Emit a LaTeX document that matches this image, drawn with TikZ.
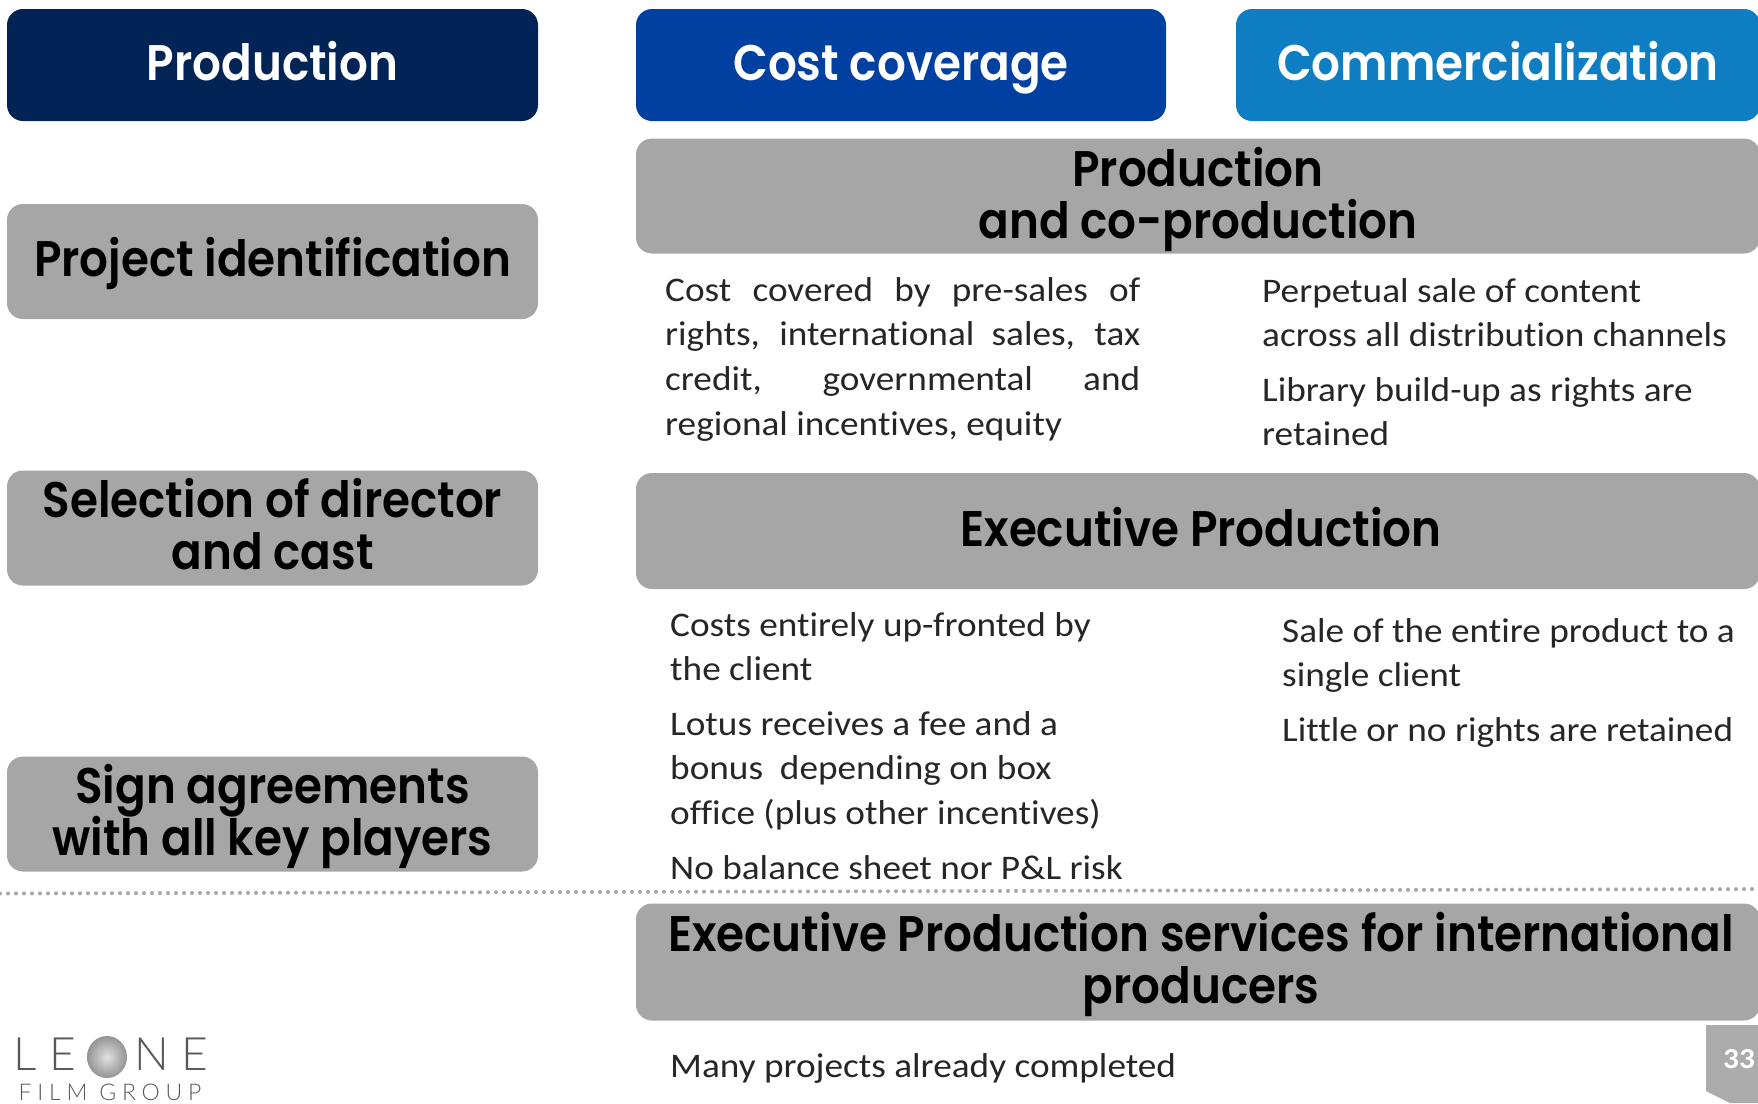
\documentclass[tikz,border=0pt]{standalone}
\usepackage{fontspec}
\setmainfont[FakeStretch=1.08,Ligatures=NoCommon]{Carlito}
\newfontfamily\headfont[FakeStretch=0.905]{Poppins SemiBold}
\newfontfamily\logofont{Lato Light}
\usepackage{tikz}
\usepackage{xcolor}
\definecolor{prodblue}{HTML}{022356}
\definecolor{costblue}{HTML}{0040A0}
\definecolor{commblue}{HTML}{0F7DC2}
\definecolor{boxgray}{HTML}{A6A6A6}
\definecolor{tabgray}{HTML}{ABABAB}
\definecolor{bodyblack}{HTML}{262626}

\begin{document}
\begin{tikzpicture}[x=1pt,y=-1pt,
    oneline/.style={text height=40pt, text depth=10pt},
    twoline/.style={text height=#1, text depth=10pt},
    headbox/.style={rounded corners=16pt, minimum height=112pt, inner sep=0pt, align=center, text=white, oneline,
        font=\headfont\fontsize{50}{52}\selectfont},
    graybox/.style={rounded corners=16pt, fill=boxgray, inner sep=0pt, align=center, text=black,
        font=\headfont\fontsize{50}{52}\selectfont},
    bodytext/.style={anchor=north west, inner sep=0pt, text=bodyblack, align=left,
        font=\fontsize{34.5}{44.8}\selectfont},
    logotext/.style={inner sep=0pt, text=black!65}]
        \useasboundingbox (0,0) rectangle (1758,1103);

        \node [headbox, fill=prodblue, minimum width=531pt] (production) at (272.5,65) {Production};
        \node [headbox, fill=costblue, minimum width=530pt] (cost) at (901,65) {Cost coverage};
        \node [headbox, fill=commblue, minimum width=524pt] (comm) at (1498,65) {Commercialization};

        \node [graybox, oneline, minimum width=531pt, minimum height=115pt] (project) at (272.5,261.5) {Project identification};
        \node [graybox, twoline=92pt, minimum width=531pt, minimum height=115pt] (selection) at (272.5,528) {Selection of director\\and cast};
        \node [graybox, twoline=92pt, minimum width=531pt, minimum height=115pt] (sign) at (272.5,814) {Sign agreements\\[-2pt]with all key players};

        \node [graybox, twoline=94pt, minimum width=1124pt, minimum height=115pt] (coprod) at (1198,196) {Production\\and co-production};
        \node [graybox, oneline, minimum width=1124pt, minimum height=116pt] (exec) at (1198,531) {\hspace*{6pt}Executive Production};
        \node [graybox, twoline=92pt, minimum width=1124pt, minimum height=117pt] (services) at (1198,962) {\hspace*{6pt}Executive Production services for international\\\hspace*{6pt}producers};

        \node [bodytext, text width=475pt, align=justify] (costtext) at (665,277) {Cost covered by pre-sales of\linebreak rights, international sales, tax\linebreak credit, governmental and\linebreak regional incentives, equity};
        \node [bodytext] (perpetual) at (1262,278) {Perpetual sale of content\\across all distribution channels};
        \node [bodytext] (library) at (1262,377) {Library build-up as rights are\\retained};

        \node [bodytext] (upfront) at (670,612) {Costs entirely up-fronted by\\the client};
        \node [bodytext] (fee) at (670,711) {Lotus receives a fee and a\\bonus\ \ depending on box\\office (plus other incentives)};
        \node [bodytext] (risk) at (670,855) {No balance sheet nor P\&L risk};
        \node [bodytext] (sale) at (1282,618) {Sale of the entire product to a\\single client};
        \node [bodytext] (little) at (1282,717) {Little or no rights are retained};
        \node [bodytext] (many) at (670,1053) {Many projects already completed};

        \coordinate (lineleft) at (0,893.5);
        \coordinate (lineright) at (1758,889);
        \draw [boxgray, line width=4pt, line cap=round, dash pattern=on 0pt off 8pt] (lineleft) -- (lineright);

        % page tab
        \fill [tabgray] (1706,1025) -- (1758,1025) -- (1758,1103) -- (1730,1103) -- (1706,1091) -- cycle;
        \node [inner sep=0pt, text=white, font=\bfseries\fontsize{29}{30}\selectfont] (page) at (1739,1059) {33};

        % logo
        \shade [inner color=black!12, outer color=black!42] (107,1057) ellipse (20 and 21);
        \node [logotext, font=\logofont\fontsize{46}{48}\selectfont] (leoneL) at (25,1054) {L};
        \node [logotext, font=\logofont\fontsize{46}{48}\selectfont] (leoneE) at (63,1054) {E};
        \node [logotext, font=\logofont\fontsize{46}{48}\selectfont] (leoneN) at (152,1054) {N};
        \node [logotext, font=\logofont\fontsize{46}{48}\selectfont] (leoneF) at (195,1054) {E};
        \node [logotext, font=\logofont\fontsize{23}{24}\selectfont\addfontfeature{LetterSpace=25}] (group) at (110,1092) {FILM GROUP};
    \end{tikzpicture}
\end{document}
